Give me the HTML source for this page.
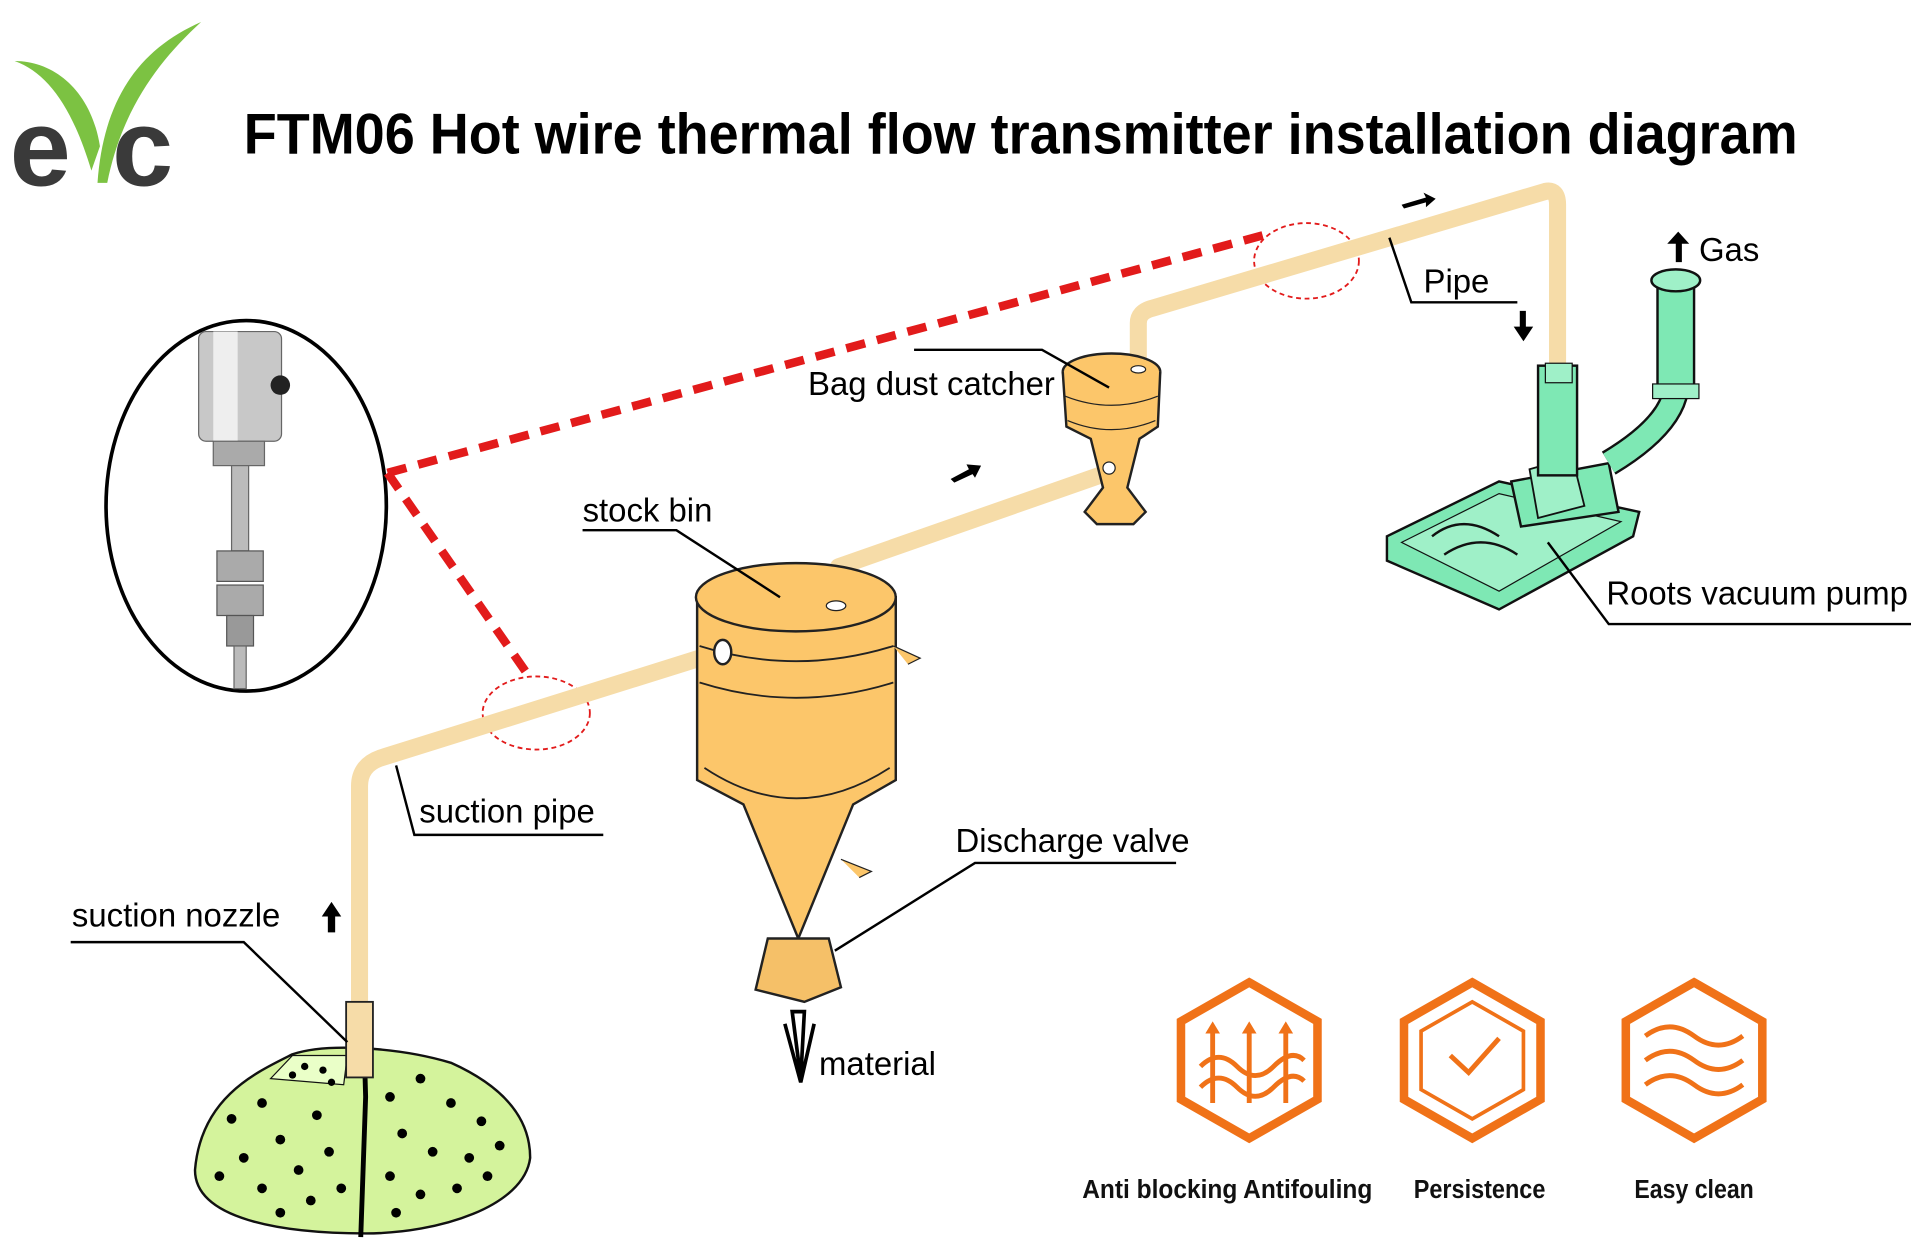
<!DOCTYPE html>
<html><head><meta charset="utf-8"><style>
html,body{margin:0;padding:0;background:#fff;}
svg{display:block;}
text{font-family:"Liberation Sans",sans-serif;}
</style></head><body>
<svg width="1911" height="1242" viewBox="0 0 1568 1019" xmlns="http://www.w3.org/2000/svg">
<rect width="1568" height="1019" fill="#fff"/>
<!-- logo -->
<path d="M75 140 C60 90 40 60 12 50 C45 50 75 75 82 120 Z" fill="#7cc242"/>
<path d="M80 150 C85 80 115 40 165 18 C130 50 100 90 88 150 Z" fill="#7cc242"/>
<text x="8" y="152" font-size="90" font-weight="bold" fill="#3a3a3a">e</text>
<text x="92" y="152" font-size="90" font-weight="bold" fill="#3a3a3a">c</text>
<text x="200" y="126" font-size="47" font-weight="bold" fill="#000" textLength="1275" lengthAdjust="spacingAndGlyphs">FTM06 Hot wire thermal flow transmitter installation diagram</text>

<!-- sensor ellipse -->
<ellipse cx="202" cy="415" rx="115" ry="152" fill="#fff" stroke="#000" stroke-width="3"/>
<rect x="163" y="272" width="68" height="90" rx="6" fill="#c8c8c8" stroke="#666"/>
<rect x="175" y="272" width="20" height="90" fill="#eee"/>
<circle cx="230" cy="316" r="8" fill="#222"/>
<rect x="175" y="362" width="42" height="20" fill="#aaa" stroke="#666"/>
<rect x="190" y="382" width="14" height="70" fill="#bbb" stroke="#666"/>
<rect x="178" y="452" width="38" height="25" fill="#aaa" stroke="#555"/>
<rect x="178" y="480" width="38" height="25" fill="#aaa" stroke="#555"/>
<rect x="186" y="505" width="22" height="25" fill="#999" stroke="#555"/>
<rect x="192" y="530" width="10" height="35" fill="#bbb" stroke="#666"/>

<!-- red dashed -->
<path d="M318 388 L1040 192 M318 388 L432 552" stroke="#e21b1b" stroke-width="7" stroke-dasharray="16 10" fill="none"/>
<ellipse cx="440" cy="585" rx="44" ry="30" fill="none" stroke="#e21b1b" stroke-width="1.5" stroke-dasharray="4 3"/>
<ellipse cx="1072" cy="214" rx="43" ry="31" fill="none" stroke="#e21b1b" stroke-width="1.5" stroke-dasharray="4 3"/>

<!-- pipes -->
<g stroke="#f6dca8" stroke-width="14" fill="none" stroke-linecap="round" stroke-linejoin="round">
<path d="M295 822 L295 645 Q295 628 312 622 L590 535"/>
<path d="M686 495 L688 465 L908 388"/>
<path d="M934 302 L934 265 Q934 256 945 253 L1268 157 Q1278 155 1278 168 L1278 300"/>
</g>

<!-- mound -->
<path d="M160 960 C165 900 210 880 240 865 C270 855 330 860 370 872 C410 890 435 915 435 950 C430 990 360 1012 300 1012 C230 1012 160 1000 160 960 Z" fill="#d4f39c" stroke="#111" stroke-width="2"/>
<path d="M222 885 L240 866 L285 866 L282 890 Z" fill="#eaffc8" stroke="#111"/>
<g fill="#000">
<circle cx="190" cy="918" r="4"/><circle cx="215" cy="905" r="4"/><circle cx="230" cy="935" r="4"/><circle cx="200" cy="950" r="4"/><circle cx="180" cy="965" r="4"/><circle cx="215" cy="975" r="4"/><circle cx="245" cy="960" r="4"/><circle cx="260" cy="915" r="4"/><circle cx="270" cy="945" r="4"/><circle cx="255" cy="985" r="4"/><circle cx="230" cy="995" r="4"/><circle cx="280" cy="975" r="4"/><circle cx="320" cy="900" r="4"/><circle cx="345" cy="885" r="4"/><circle cx="370" cy="905" r="4"/><circle cx="395" cy="920" r="4"/><circle cx="330" cy="930" r="4"/><circle cx="355" cy="945" r="4"/><circle cx="385" cy="950" r="4"/><circle cx="410" cy="940" r="4"/><circle cx="320" cy="965" r="4"/><circle cx="345" cy="980" r="4"/><circle cx="375" cy="975" r="4"/><circle cx="400" cy="965" r="4"/><circle cx="325" cy="995" r="4"/><circle cx="250" cy="875" r="3"/><circle cx="265" cy="878" r="3"/><circle cx="240" cy="882" r="3"/><circle cx="272" cy="888" r="3"/>
</g>
<path d="M298 830 L300 900 L296 1015" stroke="#000" stroke-width="4" fill="none"/>
<rect x="284" y="822" width="22" height="62" fill="#f6dca8" stroke="#222" stroke-width="1.5"/>

<!-- stock bin -->
<path d="M572 490 L572 640 L610 660 L655 770 L700 660 L735 640 L735 490 Z" fill="#fcc66a" stroke="#222" stroke-width="2"/>
<ellipse cx="653" cy="490" rx="82" ry="28" fill="#fcc66a" stroke="#222" stroke-width="2"/>
<path d="M574 530 Q653 555 733 530 M574 560 Q653 585 733 560 M578 630 Q653 680 730 630" stroke="#222" fill="none" stroke-width="1.5"/>
<ellipse cx="686" cy="497" rx="8" ry="4" fill="#fff" stroke="#222"/>
<ellipse cx="593" cy="535" rx="7" ry="10" fill="#fff" stroke="#222" stroke-width="2"/>
<path d="M733 530 L755 540 L745 545" stroke="#222" fill="#fcc66a"/>
<path d="M690 705 L715 715 L705 720" stroke="#222" fill="#fcc66a"/>
<path d="M630 770 L680 770 L690 810 L660 822 L620 812 Z" fill="#f5c068" stroke="#222" stroke-width="2"/>
<path d="M650 830 L660 830 L657 885 Z M644 840 L657 888 L668 840" stroke="#000" stroke-width="3" fill="none"/>

<!-- bag dust catcher -->
<ellipse cx="912" cy="305" rx="40" ry="15" fill="#fcc66a" stroke="#222" stroke-width="2"/>
<path d="M872 305 L875 350 L895 360 L905 400 L890 420 L900 430 L930 430 L940 420 L925 400 L935 360 L950 350 L952 305" fill="#fcc66a" stroke="#222" stroke-width="2"/>
<path d="M874 325 Q912 340 950 325 M876 345 Q912 360 948 345" stroke="#222" fill="none"/>
<ellipse cx="934" cy="303" rx="6" ry="3" fill="#fff" stroke="#222"/>
<circle cx="910" cy="384" r="5" fill="#fff" stroke="#222"/>

<!-- pump -->
<path d="M1138 440 L1230 395 L1345 420 L1340 440 L1230 500 L1138 460 Z" fill="#7ee8b4" stroke="#111" stroke-width="2"/>
<path d="M1150 445 L1230 405 L1330 428 L1230 485 Z" fill="#9ff0c8" stroke="#111"/>
<path d="M1175 440 Q1200 420 1230 440 M1185 455 Q1215 435 1245 455" stroke="#111" fill="none" stroke-width="2"/>
<path d="M1240 395 L1320 380 L1328 420 L1248 432 Z" stroke="#111" fill="#7ee8b4" stroke-width="2"/>
<path d="M1255 385 L1290 375 L1300 415 L1262 425 Z" stroke="#111" fill="#9ff0c8" stroke-width="1.5"/>
<rect x="1262" y="300" width="32" height="90" fill="#7ee8b4" stroke="#111" stroke-width="2"/>
<rect x="1268" y="298" width="22" height="16" fill="#9ff0c8" stroke="#111"/>
<path d="M1320 380 Q1370 350 1375 320" stroke="#111" stroke-width="22" fill="none"/>
<path d="M1320 380 Q1370 350 1375 320" stroke="#7ee8b4" stroke-width="18" fill="none"/>
<rect x="1360" y="235" width="30" height="85" fill="#7ee8b4" stroke="#111" stroke-width="2"/>
<rect x="1356" y="315" width="38" height="12" fill="#9ff0c8" stroke="#111"/>
<ellipse cx="1375" cy="230" rx="20" ry="9" fill="#9ff0c8" stroke="#111" stroke-width="2"/>

<!-- flow arrows -->
<g fill="#000">
<path d="M1375 215 L1375 200 L1368 200 L1377 190 L1386 200 L1380 200 L1380 215 Z"/>
<path d="M1247 255 L1252 255 L1252 268 L1258 268 L1250 280 L1242 268 L1247 268 Z"/>
<path d="M1150 168 L1170 162 L1168 158 L1178 163 L1170 170 L1170 166 L1152 171 Z"/>
<path d="M780 393 L795 385 L793 381 L805 382 L800 392 L798 389 L783 396 Z"/>
<path d="M269 765 L269 752 L264 752 L272 740 L280 752 L275 752 L275 765 Z"/>
</g>

<!-- labels with leader lines -->
<g stroke="#000" stroke-width="2" fill="none">
<path d="M1140 195 L1158 248 L1245 248"/>
<path d="M1270 445 L1320 512 L1568 512"/>
<path d="M750 287 L855 287 L910 318"/>
<path d="M478 435 L555 435 L640 490"/>
<path d="M325 628 L340 685 L495 685"/>
<path d="M965 708 L800 708 L685 780"/>
<path d="M58 773 L200 773 L285 855"/>
</g>
<g font-size="27" fill="#000">
<text x="1394" y="214">Gas</text>
<text x="1168" y="240">Pipe</text>
<text x="1318" y="496">Roots vacuum pump</text>
<text x="663" y="324">Bag dust catcher</text>
<text x="478" y="428">stock bin</text>
<text x="344" y="675">suction pipe</text>
<text x="784" y="699">Discharge valve</text>
<text x="59" y="760">suction nozzle</text>
<text x="672" y="882">material</text>
</g>

<!-- icons -->
<g stroke="#f07218" fill="none" stroke-width="7">
<polygon points="1025,806 1081,838 1081,902 1025,934 969,902 969,838"/>
<polygon points="1208,806 1264,838 1264,902 1208,934 1152,902 1152,838"/>
<polygon points="1390,806 1446,838 1446,902 1390,934 1334,902 1334,838"/>
</g>
<g stroke="#f07218" fill="none" stroke-width="4">
<path d="M985 875 Q1000 860 1015 875 T1045 875 T1070 870 M985 892 Q1000 877 1015 892 T1045 892 T1070 887"/>
<path d="M995 905 L995 845 M1025 905 L1025 845 M1055 905 L1055 845"/>
<polygon points="1208,822 1250,846 1250,894 1208,918 1166,894 1166,846" stroke-width="3"/>
<path d="M1190 866 L1205 880 L1230 852"/>
<path d="M1350 850 Q1370 835 1390 850 T1430 850 M1350 870 Q1370 855 1390 870 T1430 870 M1350 890 Q1370 875 1390 890 T1430 890"/>
</g>
<g fill="#f07218"><path d="M989 848 L995 838 L1001 848 Z M1019 848 L1025 838 L1031 848 Z M1049 848 L1055 838 L1061 848 Z"/></g>
<g font-size="21" font-weight="bold" fill="#111">
<text x="888" y="983" textLength="238" lengthAdjust="spacingAndGlyphs">Anti blocking Antifouling</text>
<text x="1160" y="983" textLength="108" lengthAdjust="spacingAndGlyphs">Persistence</text>
<text x="1341" y="983" textLength="98" lengthAdjust="spacingAndGlyphs">Easy clean</text>
</g>
</svg>
</body></html>
